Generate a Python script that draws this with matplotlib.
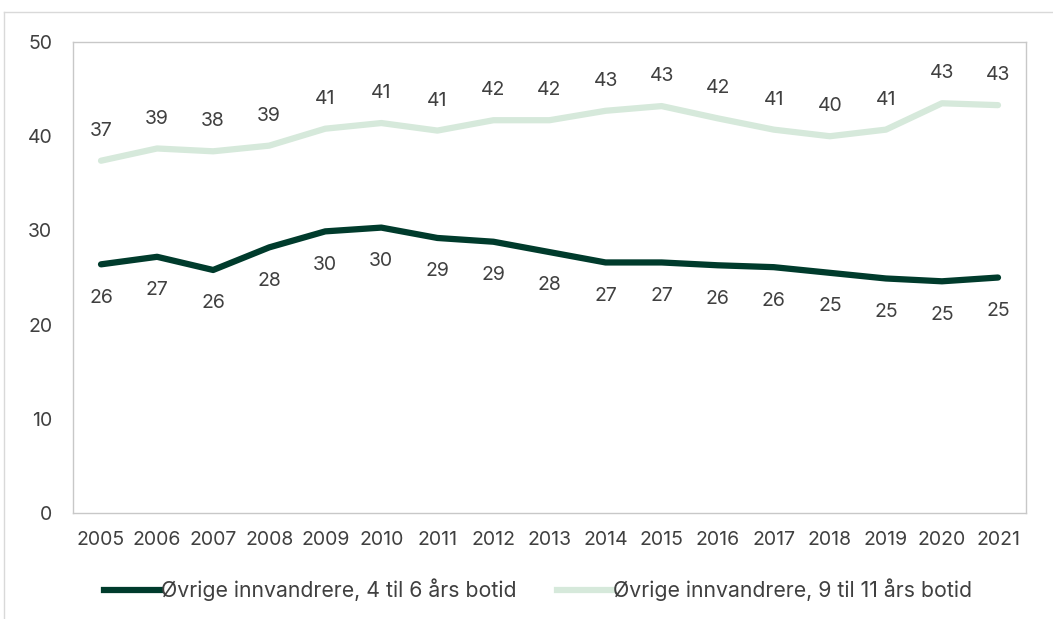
import matplotlib
matplotlib.use("Agg")
import matplotlib.pyplot as plt
from matplotlib.lines import Line2D

plt.rcParams["font.family"] = ["Inter", "DejaVu Sans"]

years = [str(y) for y in range(2005, 2022)]
botid_4_6 = [26.4, 27.2, 25.8, 28.2, 29.9, 30.3, 29.2, 28.8, 27.7, 26.6, 26.6,
             26.3, 26.1, 25.5, 24.9, 24.6, 25.0]
botid_9_11 = [37.4, 38.7, 38.4, 39.0, 40.8, 41.4, 40.6, 41.7, 41.7, 42.7, 43.2,
              41.9, 40.7, 40.0, 40.7, 43.5, 43.3]
labels_4_6 = [26, 27, 26, 28, 30, 30, 29, 29, 28, 27, 27, 26, 26, 25, 25, 25, 25]
labels_9_11 = [37, 39, 38, 39, 41, 41, 41, 42, 42, 43, 43, 42, 41, 40, 41, 43, 43]
series_names = ["Øvrige innvandrere, 4 til 6 års botid",
                "Øvrige innvandrere, 9 til 11 års botid"]

DARK = "#003b2c"
LIGHT = "#d6e9db"
TEXT = "#404040"
GRID = "#c8c8c8"
FS = 14

fig = plt.figure(figsize=(10.53, 6.19), dpi=100)
ax = fig.add_axes([0.0693, 0.1712, 0.9051, 0.7609])

x = list(range(len(years)))
ax.plot(x, botid_9_11, color=LIGHT, lw=4.5, solid_capstyle="round", zorder=3)
ax.plot(x, botid_4_6, color=DARK, lw=4.5, solid_capstyle="round", zorder=3)

for xi, v, lab in zip(x, botid_9_11, labels_9_11):
    ax.annotate(str(lab), (xi, v), xytext=(0, 21.5), textcoords="offset points",
                ha="center", va="center", fontsize=FS, color=TEXT)
for xi, v, lab in zip(x, botid_4_6, labels_4_6):
    ax.annotate(str(lab), (xi, v), xytext=(0, -24), textcoords="offset points",
                ha="center", va="center", fontsize=FS, color=TEXT)

ax.set_xlim(-0.5, len(years) - 0.5)
ax.set_ylim(0, 50)
ax.set_yticks([0, 10, 20, 30, 40, 50])
ax.set_xticks(x)
ax.set_xticklabels(years)
ax.tick_params(length=0, labelsize=FS, labelcolor=TEXT)
ax.tick_params(axis="y", pad=15)
ax.tick_params(axis="x", pad=13)
for sp in ax.spines.values():
    sp.set_color(GRID)
    sp.set_linewidth(1.0)

handles = [Line2D([], [], color=DARK, lw=4.5),
           Line2D([], [], color=LIGHT, lw=4.5)]
fig.legend(handles, series_names, loc="center", bbox_to_anchor=(0.511, 0.047),
           ncol=2, frameon=False, fontsize=15.3, handlelength=2.6,
           handletextpad=0.05, columnspacing=1.9, labelcolor=TEXT)

# outer chart frame
fig.add_artist(Line2D([4 / 1053, 4 / 1053], [0, 1 - 12 / 619],
                      transform=fig.transFigure, color="#d9d9d9", lw=1))
fig.add_artist(Line2D([4 / 1053, 1], [1 - 12 / 619, 1 - 12 / 619],
                      transform=fig.transFigure, color="#d9d9d9", lw=1))

fig.savefig("out.png", dpi=100)
